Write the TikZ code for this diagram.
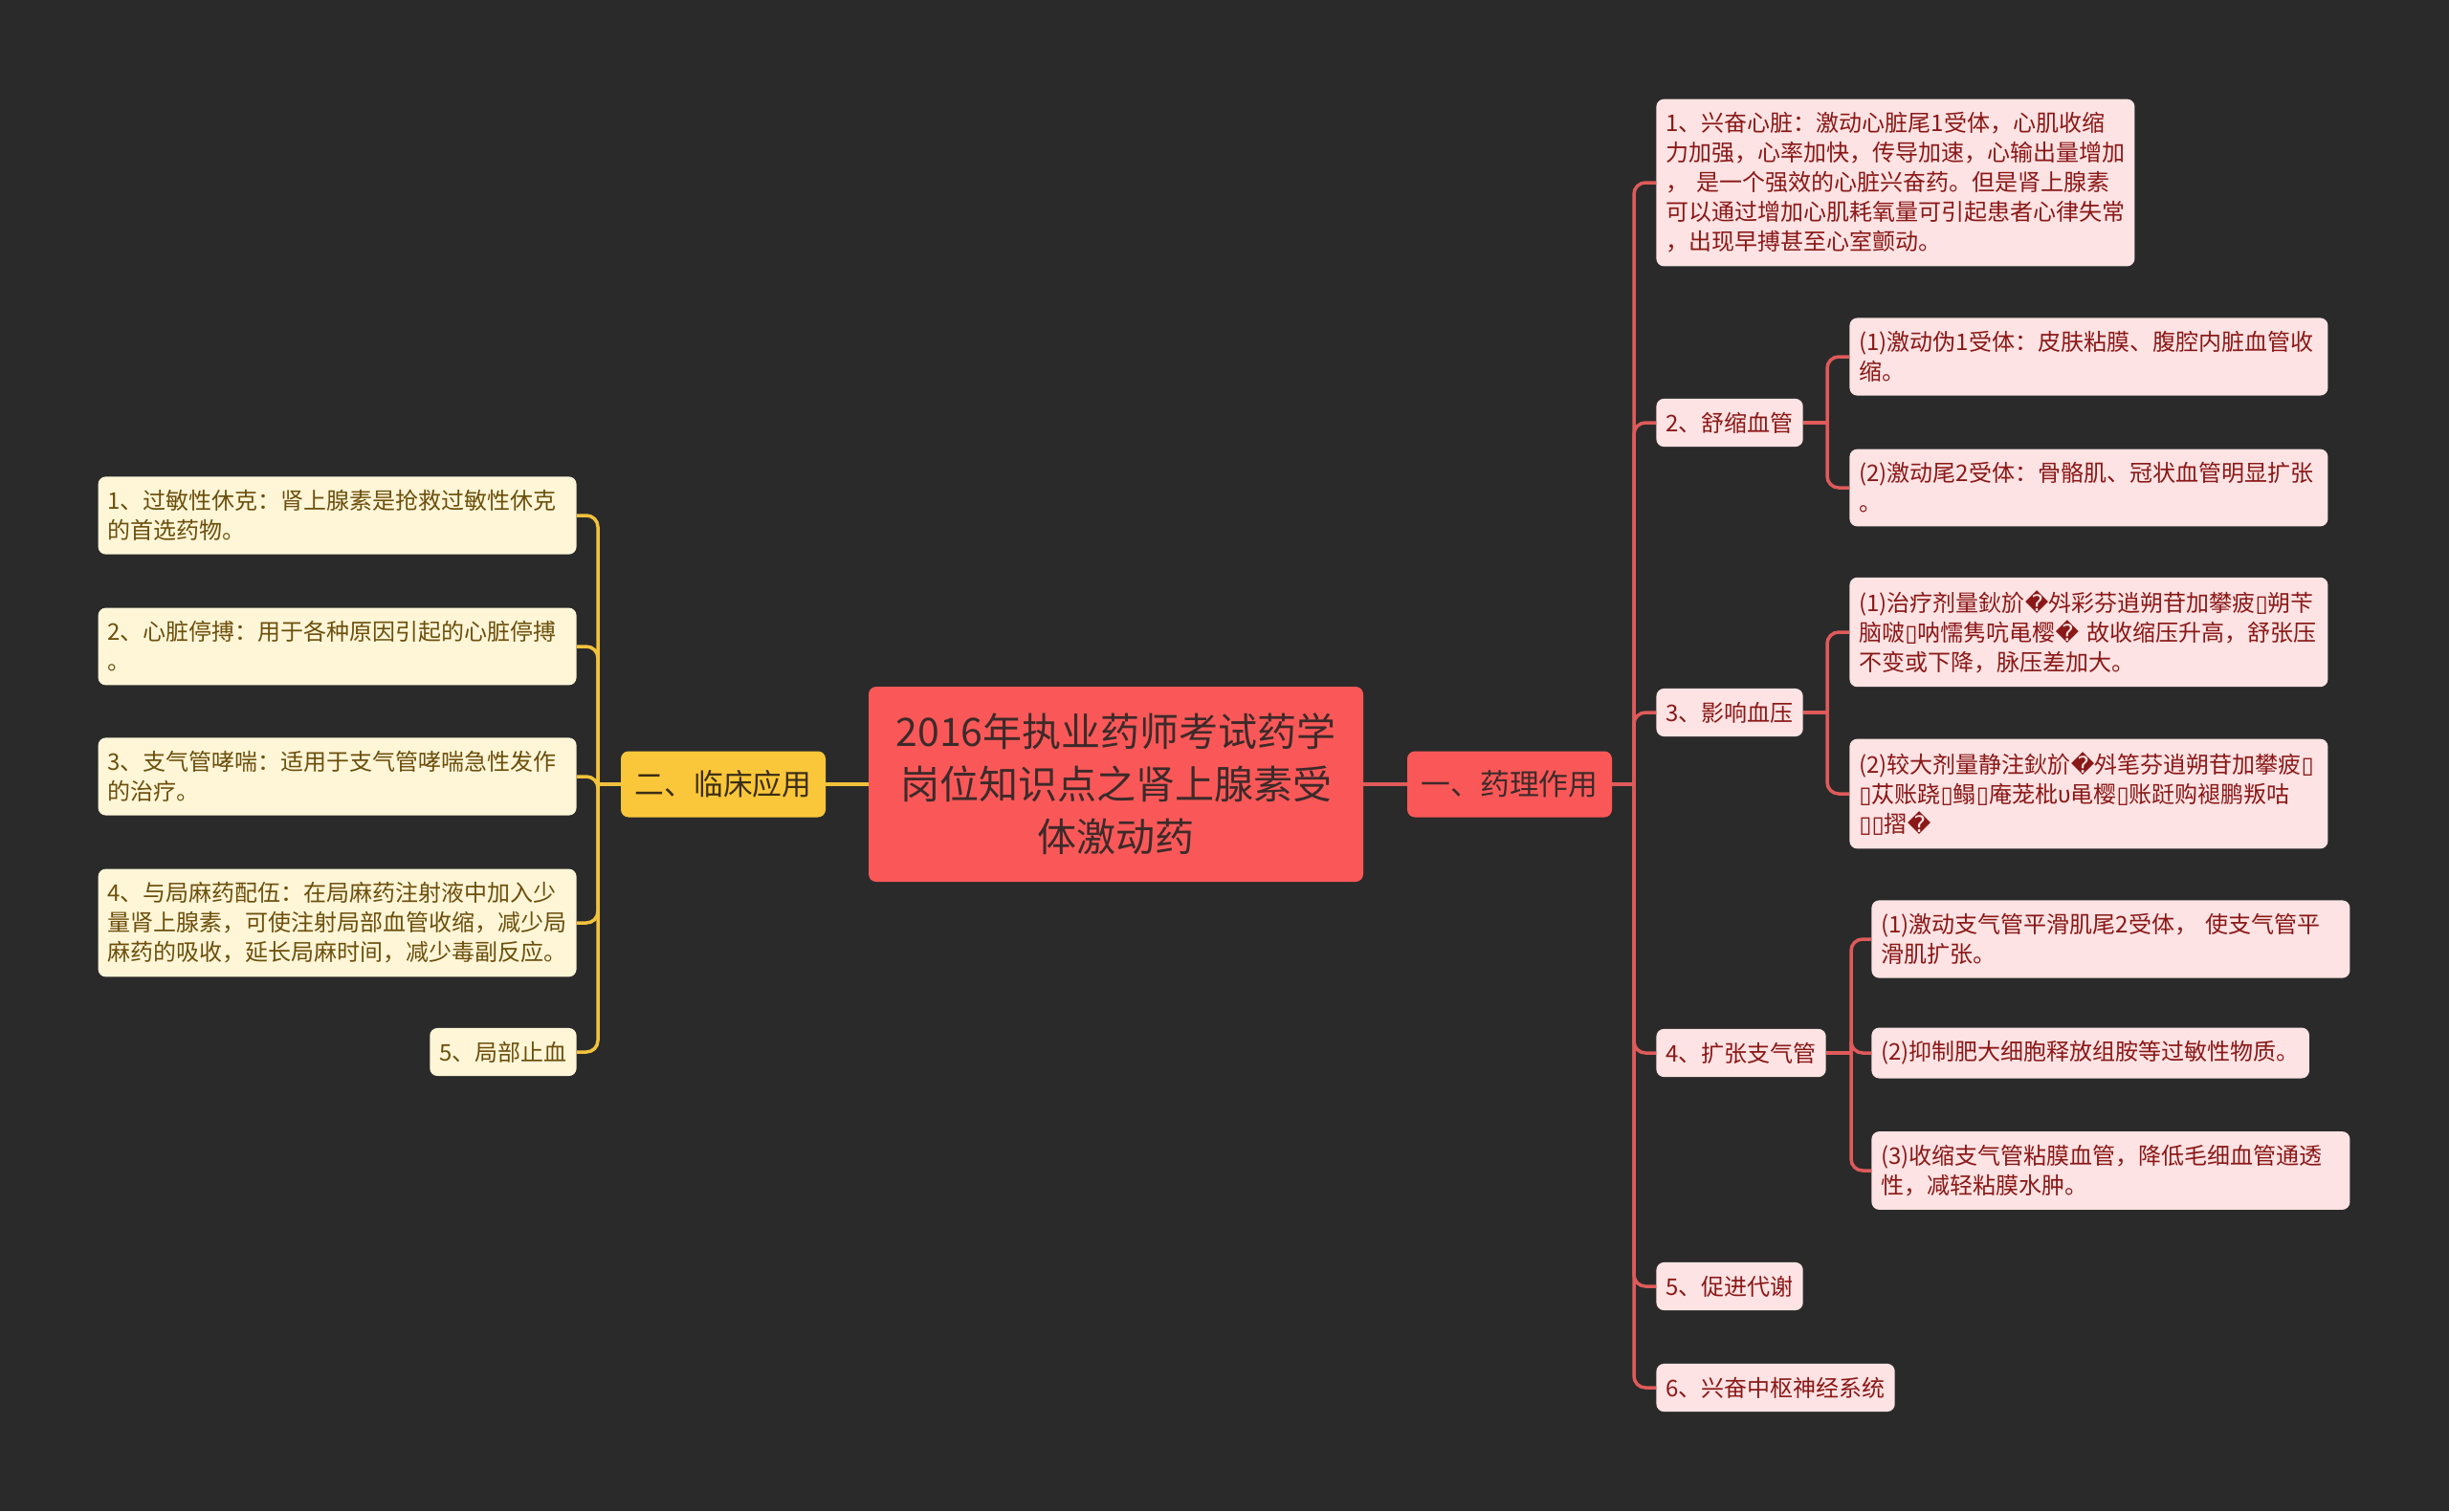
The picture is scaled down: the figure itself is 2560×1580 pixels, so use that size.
\documentclass[tikz,border=0pt]{standalone}
\usepackage{fontspec}
\setmainfont{Noto Sans CJK SC}
\newfontfamily\symfont{DejaVu Sans}
\usetikzlibrary{positioning,calc}

\definecolor{bgdark}{HTML}{2A2A2A}
\definecolor{rootred}{HTML}{FA5858}
\definecolor{rootink}{HTML}{3D2A2A}
\definecolor{redwirec}{HTML}{E05A5A}
\definecolor{yelfill}{HTML}{FBC73A}
\definecolor{yelink}{HTML}{3B2E14}
\definecolor{yelwirec}{HTML}{F2C23C}
\definecolor{pinkfill}{HTML}{FDE3E3}
\definecolor{pinkink}{HTML}{8A1818}
\definecolor{creamfill}{HTML}{FFF6D8}
\definecolor{creamink}{HTML}{6B4F0C}

% broken glyphs as they show in the source
\newcommand{\repl}{{\symfont\char"FFFD}}
\newcommand{\tofu}{{\symfont\char"25AF}}

\begin{document}
\begin{tikzpicture}[
    x=0.5pt, y=-0.5pt,
    root/.style={fill=rootred, text=rootink, rounded corners=4pt,
        minimum width=258.5pt, minimum height=102pt, align=center,
        font=\fontsize{20.5}{27.4}\selectfont},
    topic/.style={rounded corners=4pt, minimum width=107pt, minimum height=34.5pt,
        font=\fontsize{15.4}{18}\selectfont},
    leafr/.style={fill=pinkfill, text=pinkink, rounded corners=4pt,
        inner xsep=5pt, inner ysep=7pt, align=left,
        font=\fontsize{12}{15.5}\selectfont},
    leafl/.style={leafr, fill=creamfill, text=creamink},
    wide/.style={text width=240pt},
    redwire/.style={draw=redwirec, line width=1.75pt, rounded corners=6pt},
    yelwire/.style={draw=yelwirec, line width=1.75pt, rounded corners=6pt}
]
\fill[bgdark] (0,0) rectangle (2560,1580);

% Root and the two main topics
\node[root] (root) at (1166.5,820) {2016年执业药师考试药学\\岗位知识点之肾上腺素受\\体激动药};
\node[topic, fill=rootred, text=rootink] (pharm) at (1578,820) {一、药理作用};
\node[topic, fill=yelfill, text=yelink] (clin) at (756,820) {二、临床应用};

% Right side: 药理作用
\node[leafr, wide, anchor=west] (r1) at (1731,191) {1、兴奋心脏：激动心脏尾1受体，心肌收缩\\力加强，心率加快，传导加速，心输出量增加\\， 是一个强效的心脏兴奋药。但是肾上腺素\\可以通过增加心肌耗氧量可引起患者心律失常\\，出现早搏甚至心室颤动。};
\node[leafr, anchor=west] (r2) at (1731,442) {2、舒缩血管};
\node[leafr, anchor=west] (r3) at (1731,745) {3、影响血压};
\node[leafr, anchor=west] (r4) at (1731,1101) {4、扩张支气管};
\node[leafr, anchor=west] (r5) at (1731,1345) {5、促进代谢};
\node[leafr, anchor=west] (r6) at (1731,1451) {6、兴奋中枢神经系统};

\node[leafr, wide, anchor=west] (r2a) at (1933,373) {(1)激动伪1受体：皮肤粘膜、腹腔内脏血管收\\缩。};
\node[leafr, wide, anchor=west] (r2b) at (1933,510) {(2)激动尾2受体：骨骼肌、冠状血管明显扩张\\。};
\node[leafr, wide, anchor=west] (r3a) at (1933,661) {(1)治疗剂量鈥斺\repl 斘彩芬逍朔苷加攀疲\tofu 朔苄\\脑啵\tofu 呐懦隽吭黾樱\repl{} 故收缩压升高，舒张压\\不变或下降，脉压差加大。};
\node[leafr, wide, anchor=west] (r3b) at (1933,830) {(2)较大剂量静注鈥斺\repl 斘笔芬逍朔苷加攀疲\tofu\\\tofu 苁账跷\tofu 鳎\tofu 庵茏枇υ黾樱\tofu 账跹购褪鹏叛咕\\\tofu\tofu 摺\repl};
\node[leafr, wide, anchor=west] (r4a) at (1956,982) {(1)激动支气管平滑肌尾2受体， 使支气管平\\滑肌扩张。};
\node[leafr, anchor=west] (r4b) at (1956,1101) {(2)抑制肥大细胞释放组胺等过敏性物质。};
\node[leafr, wide, anchor=west] (r4c) at (1956,1224) {(3)收缩支气管粘膜血管，降低毛细血管通透\\性，减轻粘膜水肿。};

% Left side: 临床应用
\node[leafl, wide, anchor=east] (l1) at (603,539) {1、过敏性休克：肾上腺素是抢救过敏性休克\\的首选药物。};
\node[leafl, wide, anchor=east] (l2) at (603,676) {2、心脏停搏：用于各种原因引起的心脏停搏\\。};
\node[leafl, wide, anchor=east] (l3) at (603,812) {3、支气管哮喘：适用于支气管哮喘急性发作\\的治疗。};
\node[leafl, wide, anchor=east] (l4) at (603,965) {4、与局麻药配伍：在局麻药注射液中加入少\\量肾上腺素，可使注射局部血管收缩，减少局\\麻药的吸收，延长局麻时间，减少毒副反应。};
\node[leafl, anchor=east] (l5) at (603,1100) {5、局部止血};

% Junctions
\coordinate (pj) at (1708,820);
\coordinate (cj) at (625,820);
\coordinate (r2j) at (1910,442);
\coordinate (r3j) at (1910,745);
\coordinate (r4j) at (1935,1101);

% Wires
\draw[redwire] (root) -- (pharm);
\draw[yelwire] (root) -- (clin);
\draw[redwire] (pharm) -- (pj);
\foreach \c in {r1,r2,r3,r4,r5,r6} {
    \draw[redwire] (pj) |- (\c.west);
}
\draw[yelwire] (clin) -- (cj);
\foreach \c in {l1,l2,l3,l4,l5} {
    \draw[yelwire] (cj) |- (\c.east);
}
\draw[redwire] (r2) -- (r2j);
\foreach \c in {r2a,r2b} {
    \draw[redwire] (r2j) |- (\c.west);
}
\draw[redwire] (r3) -- (r3j);
\foreach \c in {r3a,r3b} {
    \draw[redwire] (r3j) |- (\c.west);
}
\draw[redwire] (r4) -- (r4j);
\foreach \c in {r4a,r4b,r4c} {
    \draw[redwire] (r4j) |- (\c.west);
}

\end{tikzpicture}
\end{document}
